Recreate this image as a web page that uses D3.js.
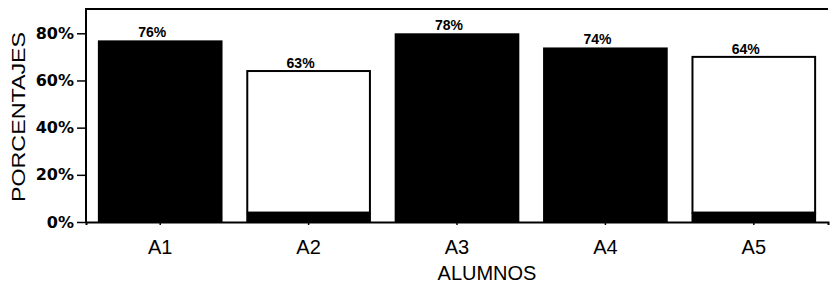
<!DOCTYPE html>
<html>
<head>
<meta charset="utf-8">
<script src="https://cdn.jsdelivr.net/npm/d3@7"></script>
<style>
  body { margin: 0; background: #fff; }
  svg { display: block; font-family: "Liberation Sans", Arial, sans-serif; }
</style>
</head>
<body>
<div class="chart-container"></div>
<script>
// Data
const categories = ['A1', 'A2', 'A3', 'A4', 'A5'];
const darkValues = [77, 4, 80, 74, 4];     // black part of each bar
const lightValues = [0, 60, 0, 0, 66];     // white part stacked on top
const valueLabels = ['76%', '63%', '78%', '74%', '64%'];
const yTicks = [0, 20, 40, 60, 80];

const width = 830, height = 288;
const margin = { top: 9, right: 2, bottom: 66, left: 86 };

const svg = d3.select('.chart-container')
    .append('svg')
    .attr('width', width)
    .attr('height', height);

const x = d3.scaleBand()
    .domain(categories)
    .range([margin.left, width - margin.right])
    .paddingInner(0.16)
    .paddingOuter(0.08);

const y = d3.scaleLinear()
    .domain([0, 90.3])
    .range([height - margin.bottom, margin.top]);

const data = categories.map((c, i) => ({
    cat: c,
    dark: darkValues[i],
    light: lightValues[i],
    label: valueLabels[i]
}));

// Black base bars
svg.selectAll('.bar-dark')
    .data(data)
    .enter()
    .append('rect')
    .attr('class', 'bar-dark')
    .attr('x', d => x(d.cat))
    .attr('width', x.bandwidth())
    .attr('y', d => y(d.dark))
    .attr('height', d => y(0) - y(d.dark))
    .attr('fill', '#000');

// White stacked bars
svg.selectAll('.bar-light')
    .data(data.filter(d => d.light > 0))
    .enter()
    .append('rect')
    .attr('class', 'bar-light')
    .attr('x', d => x(d.cat) + 1)
    .attr('width', x.bandwidth() - 2)
    .attr('y', d => y(d.dark + d.light))
    .attr('height', d => y(d.dark) - y(d.dark + d.light))
    .attr('fill', '#fff')
    .attr('stroke', '#000')
    .attr('stroke-width', 2);

// Value labels
svg.selectAll('.val')
    .data(data)
    .enter()
    .append('text')
    .attr('class', 'val')
    .attr('x', d => x(d.cat) + x.bandwidth() / 2 - 8)
    .attr('y', d => y(d.dark + d.light) - 3)
    .attr('text-anchor', 'middle')
    .attr('font-size', 14)
    .attr('font-weight', 'bold')
    .attr('fill', '#000')
    .text(d => d.label);

// Frame
svg.append('path')
    .attr('d', `M${margin.left},${y(0)}V${margin.top}H${width - margin.right}`)
    .attr('fill', 'none')
    .attr('stroke', '#000')
    .attr('stroke-width', 2);

// Y axis
const yAxis = svg.append('g')
    .attr('transform', `translate(${margin.left},0)`)
    .call(d3.axisLeft(y).tickValues(yTicks).tickSize(9).tickPadding(3).tickFormat(d => d + '%'));
yAxis.select('.domain').remove();
yAxis.selectAll('line').attr('stroke', '#000').attr('stroke-width', 1.5);
yAxis.selectAll('text')
    .attr('font-family', '"DejaVu Sans", sans-serif')
    .attr('font-size', 16)
    .attr('font-weight', 'bold')
    .attr('fill', '#000');

// X axis
const xAxis = svg.append('g')
    .attr('transform', `translate(0,${y(0)})`)
    .call(d3.axisBottom(x).tickSize(3).tickPadding(15));
xAxis.select('.domain').attr('stroke', '#000').attr('stroke-width', 2);
xAxis.selectAll('line').attr('stroke', '#000').attr('stroke-width', 1.5);
xAxis.selectAll('text')
    .attr('font-size', 20)
    .attr('fill', '#000');

// Axis titles
svg.append('text')
    .attr('transform', `translate(25,117) rotate(-90)`)
    .attr('text-anchor', 'middle')
    .attr('font-size', 18)
    .attr('textLength', 170)
    .attr('lengthAdjust', 'spacingAndGlyphs')
    .attr('fill', '#000')
    .text('PORCENTAJES');

svg.append('text')
    .attr('x', 487)
    .attr('y', 280)
    .attr('text-anchor', 'middle')
    .attr('font-size', 20)
    .attr('fill', '#000')
    .text('ALUMNOS');
</script>
</body>
</html>
